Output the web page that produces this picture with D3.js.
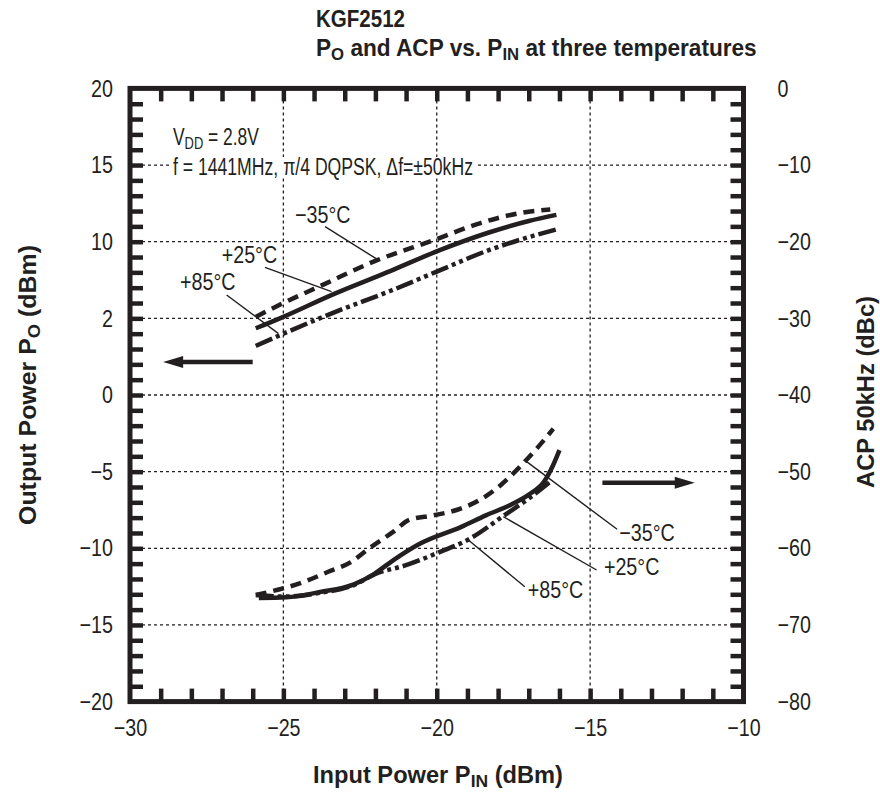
<!DOCTYPE html>
<html>
<head>
<meta charset="utf-8">
<script src="https://cdn.jsdelivr.net/npm/d3@7"></script>
<style>
  body { margin: 0; background: #fff; }
  .cond { font-family: "Liberation Sans", Arial, sans-serif; }
  .bold { font-family: "Liberation Sans", Arial, sans-serif; font-weight: bold; }
</style>
</head>
<body>
<div id="chart"></div>
<script>
// axis ticks
let pinTicks = [-30, -25, -20, -15, -10]
let poTicks = [-20, -15, -10, -5, 0, 5, 10, 15, 20]
let poTickLabels = ["−20", "−15", "−10", "−5", "0", "2", "10", "15", "20"]
let acpTicks = [0, -10, -20, -30, -40, -50, -60, -70, -80]

// Po vs Pin (left axis)
let pinPoM35 = [-25.9, -25, -23.7, -22, -20.1, -18.6, -17.2, -16.3]
let poM35 = [5.1, 6.0, 7.2, 8.75, 10.1, 11.2, 11.9, 12.1]
let pinPo25 = [-25.9, -25, -23.4, -21.5, -19.9, -18.3, -17.0, -16.1]
let po25 = [4.35, 5.1, 6.55, 8.1, 9.45, 10.6, 11.35, 11.75]
let pinPo85 = [-25.9, -25, -23.2, -21.5, -20, -18.3, -17.0, -16.0]
let po85 = [3.2, 4.0, 5.5, 6.8, 8.05, 9.45, 10.3, 10.85]

// ACP vs Pin (right axis)
let pinAcpM35 = [-25.9, -24.35, -23.5, -22.8, -22.2, -21.4, -20.9, -20.1, -19.2, -18.6, -17.9, -17.3, -16.7, -16.2]
let acpM35 = [-66.1, -64.4, -63.0, -61.8, -60.0, -57.8, -56.3, -55.7, -54.8, -53.7, -51.7, -49.4, -46.8, -44.4]
let pinAcp25 = [-25.8, -24.9, -23.8, -22.7, -22.1, -21.4, -20.6, -19.2, -18.4, -17.6, -17.0, -16.5, -16.2, -16.0]
let acp25 = [-66.5, -66.4, -65.7, -64.7, -63.5, -61.5, -59.5, -57.2, -55.7, -54.35, -53.0, -51.3, -49.1, -47.2]
let pinAcp85 = [-25.9, -24.9, -23.8, -22.7, -22.0, -21.0, -20.0, -18.9, -17.8, -17.0, -16.3]
let acp85 = [-66.1, -66.3, -65.8, -64.8, -63.35, -62.2, -60.65, -58.7, -55.7, -53.5, -51.3]

let ink = "#231f20"

let svg = d3.select("#chart")
  .append("svg")
  .attr("width", 880)
  .attr("height", 793)

// scales
let x = d3.scaleLinear().domain([-30, -10]).range([130, 743.5])
let yL = d3.scaleLinear().domain([-20, 20]).range([701.6, 88.4])
let yR = d3.scaleLinear().domain([-80, 0]).range([701.6, 88.4])

// squeeze text horizontally (condensed face look)
function condense(sel, k) {
  sel.each(function () {
    let len = this.getComputedTextLength()
    d3.select(this).attr("textLength", len * k).attr("lengthAdjust", "spacingAndGlyphs")
  })
}
// text with subscripts: scale a whole group instead of textLength
function squeezed(cls, size, html, w, pos, anchor) {
  let g = svg.append("g")
  let t = g.append("text").attr("class", cls).attr("font-size", size).attr("fill", ink)
    .attr("text-anchor", anchor || "start").html(html)
  let k = w / t.node().getComputedTextLength()
  g.attr("transform", pos + ` scale(${k},1)`)
  return t
}
let sub = (s, fs) => `<tspan font-size="${fs}" dy="4">${s}</tspan>`

// grid
let grid = svg.append("g")
  .attr("stroke", ink)
  .attr("stroke-width", 1.3)
  .attr("stroke-dasharray", "3,3")
grid.selectAll(".gx").data([-25, -20, -15]).enter().append("line")
  .attr("x1", d => x(d)).attr("x2", d => x(d))
  .attr("y1", yL(20)).attr("y2", yL(-20))
grid.selectAll(".gy").data([-15, -10, -5, 0, 5, 10, 15]).enter().append("line")
  .attr("x1", x(-30)).attr("x2", x(-10))
  .attr("y1", d => yL(d)).attr("y2", d => yL(d))

// minor ticks (inside)
function minor(g) {
  g.select(".domain").remove()
  g.selectAll("line").attr("stroke", ink).attr("stroke-width", 4.5)
}
let tk = 13
svg.append("g").attr("transform", `translate(0,${yL(-20)})`)
  .call(d3.axisBottom(x).tickValues(d3.range(-29, -10)).tickSize(-tk).tickFormat("")).call(minor)
svg.append("g").attr("transform", `translate(0,${yL(20)})`)
  .call(d3.axisTop(x).tickValues(d3.range(-29, -10)).tickSize(-tk).tickFormat("")).call(minor)
svg.append("g").attr("transform", `translate(${x(-30)},0)`)
  .call(d3.axisLeft(yL).tickValues(d3.range(-19, 20)).tickSize(-tk).tickFormat("")).call(minor)
svg.append("g").attr("transform", `translate(${x(-10)},0)`)
  .call(d3.axisRight(yL).tickValues(d3.range(-19, 20)).tickSize(-tk).tickFormat("")).call(minor)

// frame
svg.append("rect")
  .attr("x", x(-30)).attr("y", yL(20))
  .attr("width", x(-10) - x(-30)).attr("height", yL(-20) - yL(20))
  .attr("fill", "none").attr("stroke", ink).attr("stroke-width", 5)

// tick labels
function labels(g) {
  g.select(".domain").remove()
  g.selectAll("text").attr("class", "cond").attr("font-size", 24).attr("fill", ink)
    .call(condense, 0.82)
}
svg.append("g").attr("transform", `translate(0,${yL(-20)})`)
  .call(d3.axisBottom(x).tickValues(pinTicks).tickSize(0).tickPadding(17)).call(labels)
svg.append("g").attr("transform", `translate(${x(-30)},0)`)
  .call(d3.axisLeft(yL).tickValues(poTicks).tickSize(0).tickPadding(17)
    .tickFormat((d, i) => poTickLabels[i])).call(labels)
svg.append("g").attr("transform", `translate(${x(-10)},0)`)
  .call(d3.axisRight(yR).tickValues(acpTicks).tickSize(0).tickPadding(34)).call(labels)

// curves
let series = [
  { px: pinPoM35, py: poM35, y: yL, dash: "11,7" },
  { px: pinPo25, py: po25, y: yL, dash: null },
  { px: pinPo85, py: po85, y: yL, dash: "18,4,4,4,4,4" },
  { px: pinAcpM35, py: acpM35, y: yR, dash: "11,7" },
  { px: pinAcp25, py: acp25, y: yR, dash: null },
  { px: pinAcp85, py: acp85, y: yR, dash: "18,4,4,4,4,4" },
]
series.forEach(function (s) {
  let line = d3.line()
    .x(d => x(d[0]))
    .y(d => s.y(d[1]))
    .curve(d3.curveMonotoneX)
  svg.append("path")
    .datum(d3.zip(s.px, s.py))
    .attr("d", line)
    .attr("fill", "none")
    .attr("stroke", ink)
    .attr("stroke-width", 4.5)
    .attr("stroke-dasharray", s.dash)
})

// callouts: text pos, line start, line end in data units
let callouts = [
  { y: yL, t: "−35°C", tx: -24.62, ty: 11.24, l: [-23.64, 10.98, -21.91, 8.81] },
  { y: yL, t: "+25°C", tx: -27.01, ty: 8.61, l: [-25.6, 8.33, -23.43, 6.74] },
  { y: yL, t: "+85°C", tx: -28.37, ty: 6.85, l: [-26.85, 6.52, -25.17, 4.02] },
  { y: yR, t: "−35°C", tx: -14.05, ty: -59.0, l: [-17.07, -48.7, -14.12, -57.52] },
  { y: yR, t: "+25°C", tx: -14.55, ty: -63.48, l: [-17.83, -55.88, -14.79, -62.83] },
  { y: yR, t: "+85°C", tx: -17.03, ty: -66.48, l: [-18.97, -58.92, -17.13, -65.01] },
]
callouts.forEach(function (c) {
  svg.append("line")
    .attr("x1", x(c.l[0])).attr("y1", c.y(c.l[1]))
    .attr("x2", x(c.l[2])).attr("y2", c.y(c.l[3]))
    .attr("stroke", ink).attr("stroke-width", 1.4)
  svg.append("text")
    .attr("class", "cond")
    .attr("x", x(c.tx)).attr("y", c.y(c.ty))
    .attr("font-size", 24).attr("fill", ink)
    .text(c.t)
    .call(condense, 0.82)
})

// arrows
function arrow(x1, x2, yy) {
  let dir = x2 < x1 ? -1 : 1
  svg.append("line")
    .attr("x1", x1).attr("x2", x2 - dir * 16).attr("y1", yy).attr("y2", yy)
    .attr("stroke", ink).attr("stroke-width", 4.5)
  svg.append("path")
    .attr("d", `M${x2},${yy} L${x2 - dir * 20},${yy - 6} L${x2 - dir * 20},${yy + 6} Z`)
    .attr("fill", ink)
}
arrow(x(-26), x(-28.92), yL(2.15))
arrow(x(-14.6), x(-11.59), yR(-51.45))

// condition text
squeezed("cond", 23, "V" + sub("DD", 17) + '<tspan dy="-4"> = 2.8V</tspan>', 86,
  `translate(${x(-28.6)},${yL(16.3)})`)
let bg = svg.append("rect").attr("fill", "#fff")
let cond = svg.append("text")
  .attr("class", "cond").attr("font-size", 23).attr("fill", ink)
  .attr("x", x(-28.6)).attr("y", yL(14.35))
  .text("f = 1441MHz, π/4 DQPSK, Δf=±50kHz")
  .attr("textLength", 300).attr("lengthAdjust", "spacingAndGlyphs")
let bb = cond.node().getBBox()
bg.attr("x", bb.x - 3).attr("y", bb.y + 3).attr("width", bb.width + 6).attr("height", bb.height - 6)

// titles
svg.append("text").attr("class", "bold").attr("font-size", 23).attr("fill", ink)
  .attr("x", 316).attr("y", 27).text("KGF2512")
  .attr("textLength", 89).attr("lengthAdjust", "spacingAndGlyphs")
squeezed("bold", 23, "P" + sub("O", 17) + '<tspan dy="-4"> and ACP vs. P</tspan>' + sub("IN", 17) +
  '<tspan dy="-4"> at three temperatures</tspan>', 441, "translate(316,56)")

// axis titles
squeezed("bold", 23, "Input Power P" + sub("IN", 17) + '<tspan dy="-4"> (dBm)</tspan>', 250,
  "translate(438,783)", "middle")
squeezed("bold", 23, "Output Power P" + sub("O", 17) + '<tspan dy="-4"> (dBm)</tspan>', 280,
  "translate(36,385) rotate(-90)", "middle")
squeezed("bold", 23, "ACP 50kHz (dBc)", 192, "translate(874,392) rotate(-90)", "middle")
</script>
</body>
</html>
